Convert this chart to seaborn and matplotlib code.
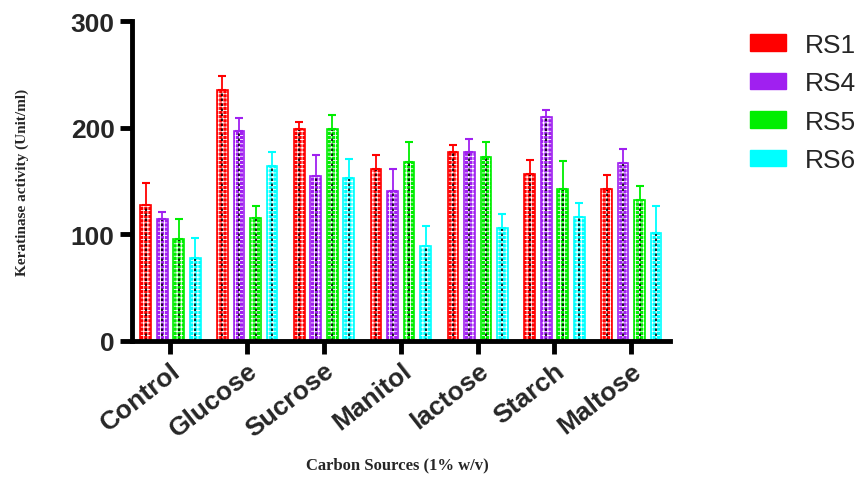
import numpy as np
import pandas as pd
import matplotlib
matplotlib.use("Agg")
import matplotlib.pyplot as plt
import seaborn as sns
from matplotlib.patches import Patch

# - Data
sources = ["Control", "Glucose", "Sucrose", "Manitol", "lactose", "Starch", "Maltose"]
strains = ["RS1", "RS4", "RS5", "RS6"]

rs1 = [128, 235, 199, 161, 177, 157, 143]
rs4 = [114, 197, 155, 141, 177, 210, 167]
rs5 = [96, 115, 199, 168, 173, 143, 132]
rs6 = [78, 164, 153, 89, 106, 116, 101]

rs1_err = [20, 14, 6, 13, 7, 13, 13]
rs4_err = [7, 12, 19, 20, 12, 7, 13]
rs5_err = [18, 12, 13, 19, 14, 26, 13]
rs6_err = [19, 13, 18, 19, 13, 13, 26]

colors = ["#ff0000", "#a020f0", "#00ee00", "#00ffff"]

df = pd.DataFrame({
    "source": sources * 4,
    "strain": np.repeat(strains, len(sources)),
    "value": rs1 + rs4 + rs5 + rs6,
    "err": rs1_err + rs4_err + rs5_err + rs6_err,
})

# - Plot
sns.set_style("white")
plt.rcParams["hatch.linewidth"] = 0.6

fig = plt.figure(figsize=(8.63, 4.81), dpi=100)
ax = fig.add_axes([0.153, 0.289, 0.623, 0.665])

sns.barplot(data=df, x="source", y="value", hue="strain", order=sources,
            hue_order=strains, palette=colors, errorbar=None, width=0.86,
            gap=0.35, legend=False, ax=ax)

# hatching + error bars, one container per strain
for cont, col, s in zip(ax.containers, colors, strains):
    errs = df[df.strain == s]["err"].values
    xs, tops = [], []
    for p in cont.patches:
        p.set_facecolor(col)
        p.set_edgecolor("white")
        p.set_hatch("++++")
        p.set_linewidth(0)
        xs.append(p.get_x() + p.get_width() / 2)
        tops.append(p.get_height())
    xs = np.array(xs)
    tops = np.array(tops)
    ax.vlines(xs, 0, tops, colors="black", linestyles=(0, (1.5, 1.5)), linewidth=1.2, zorder=3)
    ax.errorbar(xs, tops, yerr=[np.zeros_like(errs), errs], fmt="none",
                ecolor=col, elinewidth=1.3, capsize=3, capthick=1.5, zorder=3)
    # thin border in bar colour
    for p in cont.patches:
        ax.add_patch(plt.Rectangle((p.get_x(), 0), p.get_width(), p.get_height(),
                                   fill=False, edgecolor=col, linewidth=1.2, zorder=2.5))

ax.set_xlim(-0.5, 6.5)
ax.set_ylim(0, 300)
ax.set_yticks([0, 100, 200, 300])

for sp in ["top", "right"]:
    ax.spines[sp].set_visible(False)
for sp in ["left", "bottom"]:
    ax.spines[sp].set_linewidth(3.5)
    ax.spines[sp].set_color("black")

ax.tick_params(axis="both", which="major", length=9, width=3.5, color="black",
               direction="out", left=True, bottom=True)
for lab in ax.get_yticklabels():
    lab.set_fontfamily("Liberation Sans")
    lab.set_fontweight("bold")
    lab.set_fontsize(19)
ax.set_xticks(range(len(sources)))
ax.set_xticklabels(sources, rotation=38, ha="right", rotation_mode="anchor",
                   fontfamily="Liberation Sans", fontweight="bold", fontsize=19)

ax.set_ylabel("Keratinase activity (Unit/ml)", fontfamily="Liberation Serif",
              fontweight="bold", fontsize=11, labelpad=30)
ax.set_xlabel("")
fig.text(0.46, 0.015, "Carbon Sources (1% w/v)", fontfamily="Liberation Serif",
         fontweight="bold", fontsize=12, ha="center", va="bottom")

handles = [Patch(facecolor=c, edgecolor=c, hatch="++++", label=s)
           for c, s in zip(colors, strains)]
leg = fig.legend(handles=handles, loc="upper left", bbox_to_anchor=(0.869, 0.93),
                 frameon=False, prop={"family": "Liberation Sans", "size": 19},
                 handlelength=1.35, handleheight=0.6, labelspacing=0.55, handletextpad=0.75,
                 borderaxespad=0, borderpad=0)

fig.savefig("out.png", dpi=100)
